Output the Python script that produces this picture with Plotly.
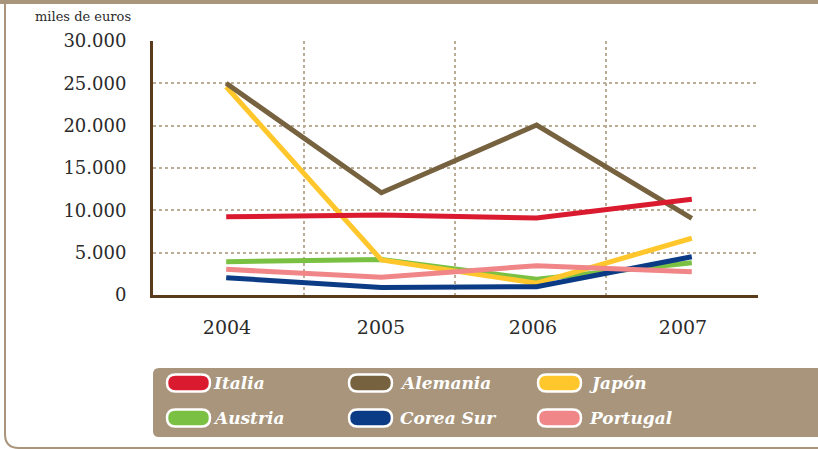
import plotly.graph_objects as go

# data (miles de euros)
years = ["2004", "2005", "2006", "2007"]
italia = [9240, 9440, 9090, 11300]
alemania = [25000, 12080, 20070, 9050]
japon = [24600, 4130, 1400, 6700]
austria = [3930, 4200, 1850, 3820]
corea_sur = [2050, 900, 980, 4520]
portugal = [3030, 2090, 3460, 2750]

names = ["Italia", "Alemania", "Japón", "Austria", "Corea Sur", "Portugal"]
values = [italia, alemania, japon, austria, corea_sur, portugal]
colors = ["#DA1A2F", "#76623F", "#FFC72C", "#7AC143", "#0C3B86", "#F08688"]

W, H = 818, 449
L, R, T, B = 153, 758, 41, 295  # plot area in pixels

# the original's year columns are not quite evenly spaced; fit x so points line up
X0, XU = 226.2, 155.2  # pixel of 2004, pixels per year


def xd(p):
    return (p - X0) / XU


def px(x):
    return (x - L) / (R - L)


def py(y):
    return (B - y) / (B - T)


fig = go.Figure()

# draw order so crossings look like the original
for i in [3, 2, 4, 5, 1, 0]:
    fig.add_trace(go.Scatter(x=list(range(len(years))), y=values[i], mode='lines',
                             name=names[i], line=dict(color=colors[i], width=5),
                             showlegend=False))

grid_col = "#BBAC95"
axis_col = "#5B3A1A"
serif = "DejaVu Serif"

fig.update_layout(
    width=W, height=H,
    margin=dict(l=L, r=W - R, t=T, b=H - B),
    paper_bgcolor="white", plot_bgcolor="white",
    separators=",.",
    font=dict(family=serif, color="#2b2b2b"),
    xaxis=dict(range=[xd(L), xd(R)], tickvals=[xd(p) for p in [227, 381, 533, 683]],
               ticktext=years,
               showgrid=False, zeroline=False, showline=True, linecolor=axis_col,
               linewidth=3, ticks="", ticklabelstandoff=13,
               tickfont=dict(size=19, family=serif, color="#2b2b2b"),
               minor=dict(tickvals=[xd(p) for p in [304, 455, 606, 758]], showgrid=True,
                          gridcolor=grid_col, griddash="dot", gridwidth=1.5, ticks="")),
    yaxis=dict(range=[0, 30000], tickvals=[0, 5000, 10000, 15000, 20000, 25000, 30000],
               tickformat=",.0f", showgrid=True, gridcolor=grid_col, griddash="dot",
               gridwidth=1.5, zeroline=False, showline=True, linecolor=axis_col,
               linewidth=3, ticks="", ticklabelstandoff=20,
               tickfont=dict(size=18, family=serif, color="#2b2b2b")),
)

frame_col = "#A8957B"
shapes = []
# top band
shapes.append(dict(type="rect", xref="paper", yref="paper", x0=px(0), x1=px(W),
                   y0=py(0), y1=py(4), fillcolor=frame_col, line=dict(width=0), layer="below"))
# left/bottom frame with rounded corner
shapes.append(dict(type="path", xref="paper", yref="paper",
                   path=f"M {px(5)},{py(4)} L {px(5)},{py(434)} Q {px(5)},{py(448)} {px(19)},{py(448)} L {px(W)},{py(448)}",
                   line=dict(color=frame_col, width=2)))
# legend box
lx0, ly0, ly1, rr = 153, 368, 437, 6
shapes.append(dict(type="path", xref="paper", yref="paper",
                   path=(f"M {px(W)},{py(ly0)} L {px(lx0 + rr)},{py(ly0)} "
                         f"Q {px(lx0)},{py(ly0)} {px(lx0)},{py(ly0 + rr)} "
                         f"L {px(lx0)},{py(ly1 - rr)} Q {px(lx0)},{py(ly1)} {px(lx0 + rr)},{py(ly1)} "
                         f"L {px(W)},{py(ly1)} Z"),
                   fillcolor=frame_col, line=dict(width=0)))

annotations = [dict(text="miles de euros", xref="paper", yref="paper", x=px(33), y=py(17),
                    xanchor="left", yanchor="middle", showarrow=False,
                    font=dict(size=13, family=serif, color="#2b2b2b"))]

# legend pills
col_x = [167, 349, 538]
row_y = [383, 418]
pw, ph = 43, 17
for k in range(len(names)):
    cx = col_x[k % 3]
    cy = row_y[k // 3]
    r = ph / 2
    x0, x1, y0, y1 = cx, cx + pw, cy - r, cy + r
    path = (f"M {px(x0 + r)},{py(y0)} L {px(x1 - r)},{py(y0)} "
            f"Q {px(x1)},{py(y0)} {px(x1)},{py(cy)} Q {px(x1)},{py(y1)} {px(x1 - r)},{py(y1)} "
            f"L {px(x0 + r)},{py(y1)} Q {px(x0)},{py(y1)} {px(x0)},{py(cy)} "
            f"Q {px(x0)},{py(y0)} {px(x0 + r)},{py(y0)} Z")
    shapes.append(dict(type="path", xref="paper", yref="paper", path=path,
                       fillcolor=colors[k], line=dict(color="white", width=2.5)))
    tx = x1 + (1 if k % 3 == 0 else 6)
    annotations.append(dict(text=f"<b><i>{names[k]}</i></b>", xref="paper", yref="paper",
                            x=px(tx), y=py(cy), xanchor="left", yanchor="middle",
                            showarrow=False, font=dict(size=17, family=serif, color="white")))

fig.update_layout(shapes=shapes, annotations=annotations)

# page has a default 8px body margin; drop it so the figure sits at 0,0
fig.write_html("out.html", config={"displayModeBar": False},
               post_script="document.body.style.margin='0';document.body.style.overflow='hidden';")
